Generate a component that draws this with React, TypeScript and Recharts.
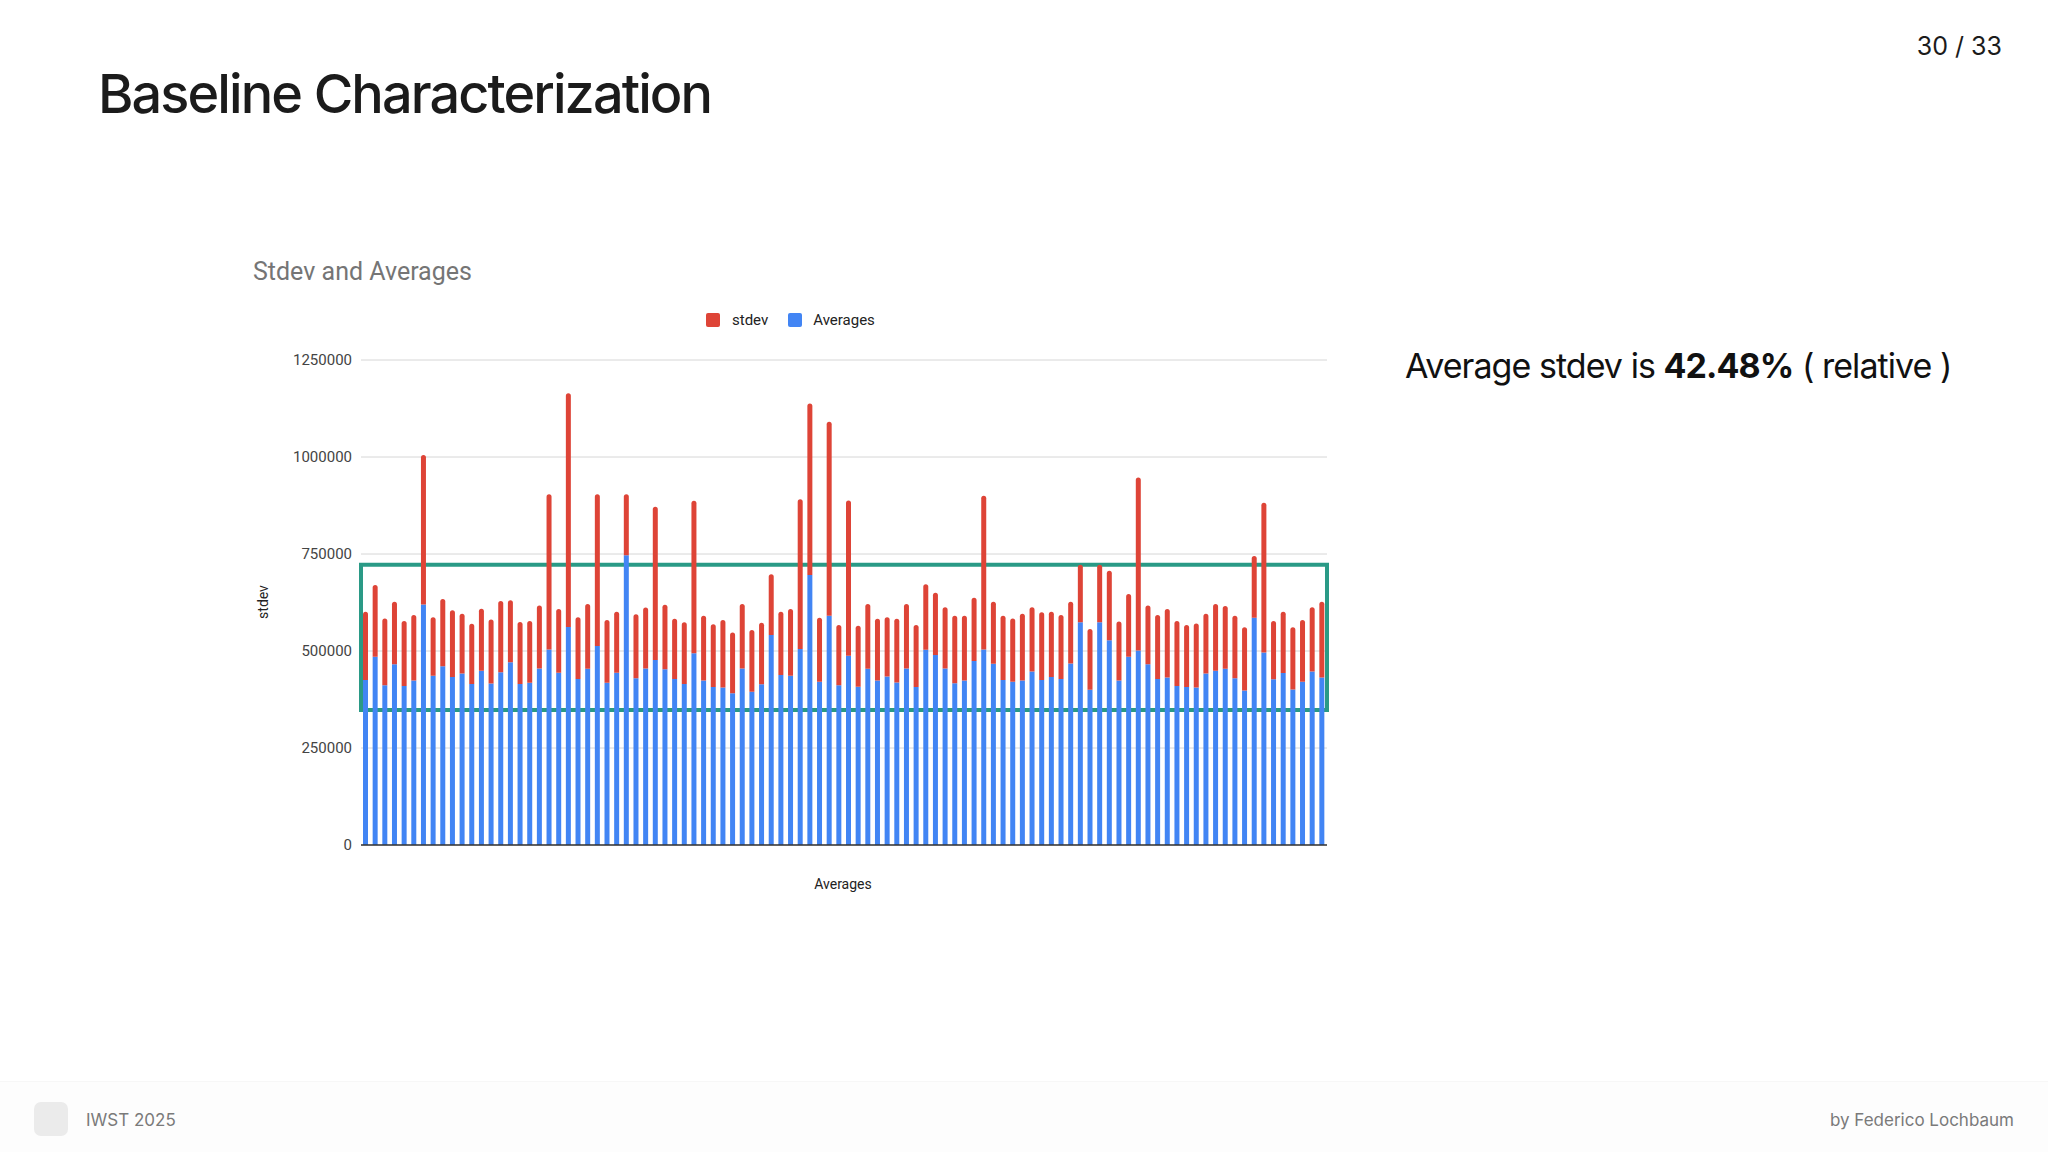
import React from 'react';
import {
  BarChart,
  Bar,
  XAxis,
  YAxis,
  CartesianGrid,
  ReferenceArea,
} from 'recharts';

// Mean run time per run (bottom, blue segment)
const averages = [
  425000, 485000, 412000, 466000, 410000, 424000, 620000, 436000, 461000, 433000,
  442000, 415000, 449000, 416000, 445000, 471000, 415000, 418000, 455000, 504000,
  444000, 562000, 428000, 454000, 513000, 418000, 444000, 747000, 430000, 455000,
  477000, 453000, 428000, 415000, 494000, 424000, 407000, 406000, 391000, 455000,
  395000, 414000, 541000, 438000, 436000, 505000, 696000, 421000, 591000, 412000,
  488000, 408000, 454000, 424000, 434000, 419000, 455000, 407000, 503000, 490000,
  455000, 417000, 424000, 474000, 504000, 467000, 425000, 421000, 424000, 447000,
  425000, 433000, 428000, 468000, 574000, 400000, 574000, 528000, 424000, 485000,
  501000, 466000, 428000, 432000, 410000, 407000, 406000, 442000, 449000, 454000,
  430000, 398000, 586000, 496000, 427000, 443000, 401000, 421000, 447000, 432000,
];

// Standard deviation per run (stacked on top, red segment)
const stdevs = [
  176000, 185000, 172000, 161000, 167000, 169000, 385000, 151000, 173000, 172000,
  154000, 155000, 160000, 165000, 184000, 160000, 160000, 159000, 162000, 400000,
  164000, 602000, 159000, 167000, 391000, 162000, 157000, 157000, 165000, 157000,
  395000, 166000, 155000, 159000, 393000, 167000, 162000, 174000, 157000, 166000,
  159000, 159000, 157000, 163000, 172000, 386000, 442000, 165000, 500000, 155000,
  400000, 157000, 167000, 159000, 153000, 164000, 166000, 160000, 169000, 160000,
  158000, 174000, 167000, 163000, 396000, 160000, 166000, 163000, 172000, 166000,
  175000, 168000, 165000, 159000, 148000, 157000, 148000, 179000, 152000, 162000,
  446000, 151000, 165000, 176000, 167000, 160000, 165000, 154000, 172000, 162000,
  161000, 163000, 159000, 386000, 150000, 158000, 160000, 159000, 166000, 195000,
];

const yTicks = [0, 250000, 500000, 750000, 1000000, 1250000];

// highlighted band drawn over the bars
const bandLow = 348000;
const bandHigh = 722000;

const RED = '#de4437';
const BLUE = '#4285f4';
const TEAL = '#2a9a86';

const data = averages.map((avg, i) => ({
  run: i + 1,
  average: avg,
  stdev: stdevs[i],
}));

const slideFont = 'Inter, "Noto Sans", sans-serif';
const chartFont = 'Roboto, Arial, sans-serif';

const App = () => {
  return (
    <div
      style={{
        position: 'absolute',
        left: 0,
        top: 0,
        width: 2048,
        height: 1152,
        background: '#ffffff',
        overflow: 'hidden',
        fontFamily: slideFont,
      }}
    >
      {/* slide header */}
      <div
        style={{
          position: 'absolute',
          left: 98,
          top: 59,
          fontSize: 54,
          fontWeight: 500,
          color: '#1b1b1b',
          letterSpacing: -1.9,
          lineHeight: '70px',
          whiteSpace: 'nowrap',
        }}
      >
        Baseline Characterization
      </div>
      <div
        style={{
          position: 'absolute',
          right: 46,
          top: 30,
          fontSize: 25,
          color: '#1b1b1b',
          lineHeight: '32px',
        }}
      >
        30 / 33
      </div>

      {/* chart title + legend (google sheets style) */}
      <div
        style={{
          position: 'absolute',
          left: 253,
          top: 257,
          fontFamily: chartFont,
          fontSize: 25,
          color: '#757575',
          lineHeight: '30px',
        }}
      >
        Stdev and Averages
      </div>
      <div
        style={{
          position: 'absolute',
          left: 706,
          top: 310,
          display: 'flex',
          alignItems: 'center',
          fontFamily: chartFont,
          fontSize: 15,
          color: '#222',
          lineHeight: '20px',
        }}
      >
        <span style={{ width: 14, height: 14, background: RED, borderRadius: 2, marginRight: 12 }} />
        <span style={{ marginRight: 20 }}>stdev</span>
        <span style={{ width: 14, height: 14, background: BLUE, borderRadius: 2, marginRight: 11 }} />
        <span>Averages</span>
      </div>

      <div style={{ position: 'absolute', left: 240, top: 340 }}>
        <BarChart
          width={1100}
          height={560}
          data={data}
          margin={{ top: 20, right: 13, bottom: 54, left: 41 }}
          barSize={5}
        >
          <CartesianGrid vertical={false} stroke="#d6d6d6" />
          <XAxis
            dataKey="run"
            height={1}
            tick={false}
            tickLine={false}
            axisLine={{ stroke: '#333333', strokeWidth: 1.5 }}
          />
          <YAxis
            width={80}
            domain={[0, 1250000]}
            ticks={yTicks}
            interval={0}
            axisLine={false}
            tickLine={false}
            tickSize={6}
            tickMargin={3}
            tick={{ fill: '#444444', fontSize: 15, fontFamily: chartFont }}
          />
          <Bar dataKey="average" stackId="s" fill={BLUE} isAnimationActive={false} />
          <Bar
            dataKey="stdev"
            stackId="s"
            fill={RED}
            radius={[2.5, 2.5, 0, 0]}
            isAnimationActive={false}
          />
          <ReferenceArea
            y1={bandLow}
            y2={bandHigh}
            fill="none"
            stroke={TEAL}
            strokeWidth={4}
            fillOpacity={0}
            ifOverflow="visible"
          />
        </BarChart>
      </div>

      {/* axis titles */}
      <div
        style={{
          position: 'absolute',
          left: 263,
          top: 602,
          transform: 'translate(-50%, -50%) rotate(-90deg)',
          fontFamily: chartFont,
          fontSize: 14,
          color: '#222',
        }}
      >
        stdev
      </div>
      <div
        style={{
          position: 'absolute',
          left: 843,
          top: 884,
          transform: 'translate(-50%, -50%)',
          fontFamily: chartFont,
          fontSize: 14,
          color: '#222',
        }}
      >
        Averages
      </div>

      {/* note on the right */}
      <div
        style={{
          position: 'absolute',
          left: 1405,
          top: 344,
          fontSize: 34,
          color: '#111',
          lineHeight: '44px',
          letterSpacing: -0.95,
          whiteSpace: 'nowrap',
        }}
      >
        Average stdev is <b style={{ fontWeight: 700 }}>42.48%</b> ( relative )
      </div>

      {/* footer */}
      <div
        style={{
          position: 'absolute',
          left: 0,
          top: 1081,
          width: 2048,
          height: 71,
          background: '#fdfdfd',
          borderTop: '1px solid #f7f7f7',
        }}
      >
        <div
          style={{
            position: 'absolute',
            left: 34,
            top: 20,
            width: 34,
            height: 34,
            borderRadius: 7,
            background: '#ebebeb',
          }}
        />
        <div
          style={{
            position: 'absolute',
            left: 86,
            top: 26,
            fontSize: 17,
            color: '#7a7a7a',
            lineHeight: '24px',
          }}
        >
          IWST 2025
        </div>
        <div
          style={{
            position: 'absolute',
            right: 34,
            top: 26,
            fontSize: 17,
            color: '#7a7a7a',
            lineHeight: '24px',
          }}
        >
          by Federico Lochbaum
        </div>
      </div>
    </div>
  );
};

export default App;
